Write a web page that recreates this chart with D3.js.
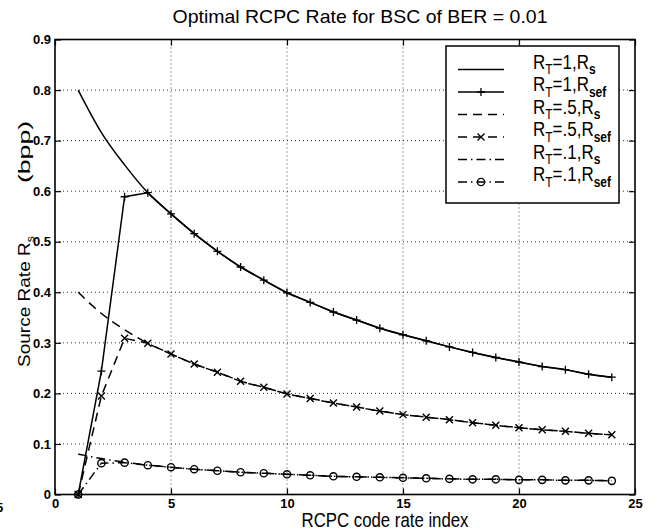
<!DOCTYPE html>
<html>
<head>
<meta charset="utf-8">
<script src="https://cdn.jsdelivr.net/npm/d3@7"></script>
<style>
  body { margin: 0; background: #fff; }
  svg { display: block; font-family: "Liberation Sans", Arial, Helvetica, sans-serif; }
</style>
</head>
<body>
<svg id="chart" width="663" height="530"></svg>
<script>
// RCPC code rate index
let rateIndex = [1, 2, 3, 4, 5, 6, 7, 8, 9, 10, 11, 12, 13, 14, 15, 16, 17, 18, 19, 20, 21, 22, 23, 24]

// source rates (bpp)
let rs1 = [0.800, 0.716, 0.652, 0.597, 0.555, 0.516, 0.481, 0.450, 0.424, 0.399, 0.380, 0.361, 0.345, 0.329, 0.316, 0.304, 0.292, 0.281, 0.271, 0.262, 0.253, 0.247, 0.238, 0.232]
let rsef1 = [0.000, 0.244, 0.589, 0.597, 0.555, 0.516, 0.481, 0.450, 0.424, 0.399, 0.380, 0.361, 0.345, 0.329, 0.316, 0.304, 0.292, 0.281, 0.271, 0.262, 0.253, 0.247, 0.238, 0.232]
let rs05 = [0.400, 0.358, 0.326, 0.299, 0.278, 0.258, 0.242, 0.224, 0.212, 0.199, 0.190, 0.181, 0.173, 0.165, 0.158, 0.153, 0.148, 0.142, 0.137, 0.132, 0.128, 0.125, 0.121, 0.118]
let rsef05 = [0.000, 0.195, 0.309, 0.299, 0.278, 0.258, 0.242, 0.224, 0.212, 0.199, 0.190, 0.181, 0.173, 0.165, 0.158, 0.153, 0.148, 0.142, 0.137, 0.132, 0.128, 0.125, 0.121, 0.118]
let rs01 = [0.080, 0.071, 0.064, 0.058, 0.054, 0.050, 0.047, 0.044, 0.042, 0.040, 0.038, 0.036, 0.035, 0.034, 0.033, 0.032, 0.031, 0.030, 0.030, 0.029, 0.029, 0.028, 0.028, 0.027]
let rsef01 = [0.000, 0.062, 0.063, 0.058, 0.054, 0.050, 0.047, 0.044, 0.042, 0.040, 0.038, 0.036, 0.035, 0.034, 0.033, 0.032, 0.031, 0.030, 0.030, 0.029, 0.029, 0.028, 0.028, 0.027]

let xTicks = [0, 5, 10, 15, 20, 25]
let yTicks = [0, 0.1, 0.2, 0.3, 0.4, 0.5, 0.6, 0.7, 0.8, 0.9]

let series = [
  { rt: '1', sub: 's', values: rs1, dash: null, marker: null },
  { rt: '1', sub: 'sef', values: rsef1, dash: null, marker: 'plus' },
  { rt: '.5', sub: 's', values: rs05, dash: '9,6', marker: null },
  { rt: '.5', sub: 'sef', values: rsef05, dash: '9,6', marker: 'cross' },
  { rt: '.1', sub: 's', values: rs01, dash: '9,4,1.5,4', marker: null },
  { rt: '.1', sub: 'sef', values: rsef01, dash: '9,4,1.5,4', marker: 'circle' }
]

let svg = d3.select('#chart')
let pLeft = 55, pRight = 635, pTop = 39.5, pBottom = 494.5

let x = d3.scaleLinear().domain([0, 25]).range([pLeft, pRight])
let y = d3.scaleLinear().domain([0, 0.9]).range([pBottom, pTop])

// dotted grid
let grid = svg.append('g').attr('stroke', '#000').attr('stroke-width', 0.8).attr('stroke-dasharray', '1,3')
grid.selectAll('.gx').data(xTicks.slice(1, -1)).enter().append('line')
  .attr('x1', d => x(d)).attr('x2', d => x(d)).attr('y1', pTop).attr('y2', pBottom)
grid.selectAll('.gy').data(yTicks.slice(1, -1)).enter().append('line')
  .attr('x1', pLeft).attr('x2', pRight).attr('y1', d => y(d)).attr('y2', d => y(d))

// axes, matlab style: ticks inside on all four sides
let axBottom = d3.axisBottom(x).tickValues(xTicks).tickSize(-6).tickPadding(4).tickFormat(d3.format('d'))
let axTop = d3.axisTop(x).tickValues(xTicks).tickSize(-6).tickFormat('')
let axLeft = d3.axisLeft(y).tickValues(yTicks).tickSize(-6).tickPadding(4).tickFormat(d => d === 0 ? '0' : d3.format('.1f')(d))
let axRight = d3.axisRight(y).tickValues(yTicks).tickSize(-6).tickFormat('')

function styleAxis (g) {
  g.select('.domain').remove()
  g.selectAll('.tick line').attr('stroke', '#000').attr('stroke-width', 1.2)
  g.selectAll('.tick text').attr('fill', '#000').attr('font-size', 13).attr('font-weight', 'bold')
    .attr('font-family', '"Liberation Sans", Arial, sans-serif')
}

svg.append('g').attr('transform', `translate(0,${pBottom})`).call(axBottom).call(styleAxis)
svg.append('g').attr('transform', `translate(0,${pTop})`).call(axTop).call(styleAxis)
svg.append('g').attr('transform', `translate(${pLeft},0)`).call(axLeft).call(styleAxis)
svg.append('g').attr('transform', `translate(${pRight},0)`).call(axRight).call(styleAxis)

svg.append('rect').attr('x', pLeft).attr('y', pTop).attr('width', pRight - pLeft).attr('height', pBottom - pTop)
  .attr('fill', 'none').attr('stroke', '#000').attr('stroke-width', 1.6)

// markers
function drawMarker (g, kind, cx, cy) {
  if (kind === 'plus') {
    g.append('path').attr('d', `M${cx - 4},${cy}H${cx + 4}M${cx},${cy - 4}V${cy + 4}`)
      .attr('stroke', '#000').attr('stroke-width', 1.3).attr('fill', 'none')
  } else if (kind === 'cross') {
    g.append('path').attr('d', `M${cx - 3.5},${cy - 3.5}L${cx + 3.5},${cy + 3.5}M${cx - 3.5},${cy + 3.5}L${cx + 3.5},${cy - 3.5}`)
      .attr('stroke', '#000').attr('stroke-width', 1.4).attr('fill', 'none')
  } else if (kind === 'circle') {
    g.append('circle').attr('cx', cx).attr('cy', cy).attr('r', 3.6)
      .attr('stroke', '#000').attr('stroke-width', 1.4).attr('fill', 'none')
  }
}

// plain R_s curves are smooth, R_sef curves keep their corners
let smooth = d3.line().x((d, i) => x(rateIndex[i])).y(d => y(d)).curve(d3.curveMonotoneX)
let line = d3.line().x((d, i) => x(rateIndex[i])).y(d => y(d))
let plot = svg.append('g')

series.forEach(function (s) {
  plot.append('path').datum(s.values)
    .attr('d', s.marker ? line : smooth)
    .attr('fill', 'none')
    .attr('stroke', '#000')
    .attr('stroke-width', 1.5)
    .attr('stroke-dasharray', s.dash)
  if (s.marker) {
    s.values.forEach(function (v, i) {
      drawMarker(plot, s.marker, x(rateIndex[i]), y(v))
    })
  }
})

// legend
let legend = svg.append('g')
legend.append('rect').attr('x', 446).attr('y', 46).attr('width', 173).attr('height', 157)
  .attr('fill', '#fff').attr('stroke', '#000').attr('stroke-width', 1.5)

series.forEach(function (s, i) {
  let ly = 69.5 + i * 22.5
  legend.append('line').attr('x1', 458).attr('x2', 504).attr('y1', ly).attr('y2', ly)
    .attr('stroke', '#000').attr('stroke-width', 1.5).attr('stroke-dasharray', s.dash)
  if (s.marker) drawMarker(legend, s.marker, 481, ly)
  let t = legend.append('text').attr('transform', `translate(533,${ly - 1}) scale(1,1.15)`)
    .attr('font-size', 17).attr('fill', '#000')
  t.append('tspan').text('R')
  t.append('tspan').attr('font-size', 12).attr('dy', 5).text('T')
  t.append('tspan').attr('dy', -5).text('=' + s.rt + ',R')
  t.append('tspan').attr('font-size', 12).attr('dy', 5).attr('font-weight', 'bold').text(s.sub)
})

// title and labels
svg.append('text').attr('x', 360).attr('y', 23).attr('text-anchor', 'middle')
  .attr('font-size', 18.5).attr('fill', '#000')
  .attr('textLength', 375).attr('lengthAdjust', 'spacingAndGlyphs')
  .text('Optimal RCPC Rate for BSC of BER = 0.01')

svg.append('text').attr('transform', 'translate(385,527) scale(1,1.22)').attr('text-anchor', 'middle')
  .attr('font-size', 17).attr('fill', '#000')
  .attr('textLength', 167).attr('lengthAdjust', 'spacingAndGlyphs')
  .text('RCPC code rate index')

let yl = svg.append('text').attr('transform', 'translate(30,367) rotate(-90) scale(1.12,1)')
  .attr('font-size', 17).attr('fill', '#000')
yl.append('tspan').text('Source Rate R')
yl.append('tspan').attr('font-size', 11).attr('dy', 4).text('s')

svg.append('text').attr('transform', 'translate(30,183) rotate(-90)')
  .attr('font-size', 17).attr('fill', '#000')
  .attr('textLength', 62).attr('lengthAdjust', 'spacingAndGlyphs')
  .text('(bpp)')

// stray label cut at the page edge
svg.append('text').attr('x', -4).attr('y', 512).attr('font-size', 13).attr('font-weight', 'bold').text('5')
</script>
</body>
</html>
